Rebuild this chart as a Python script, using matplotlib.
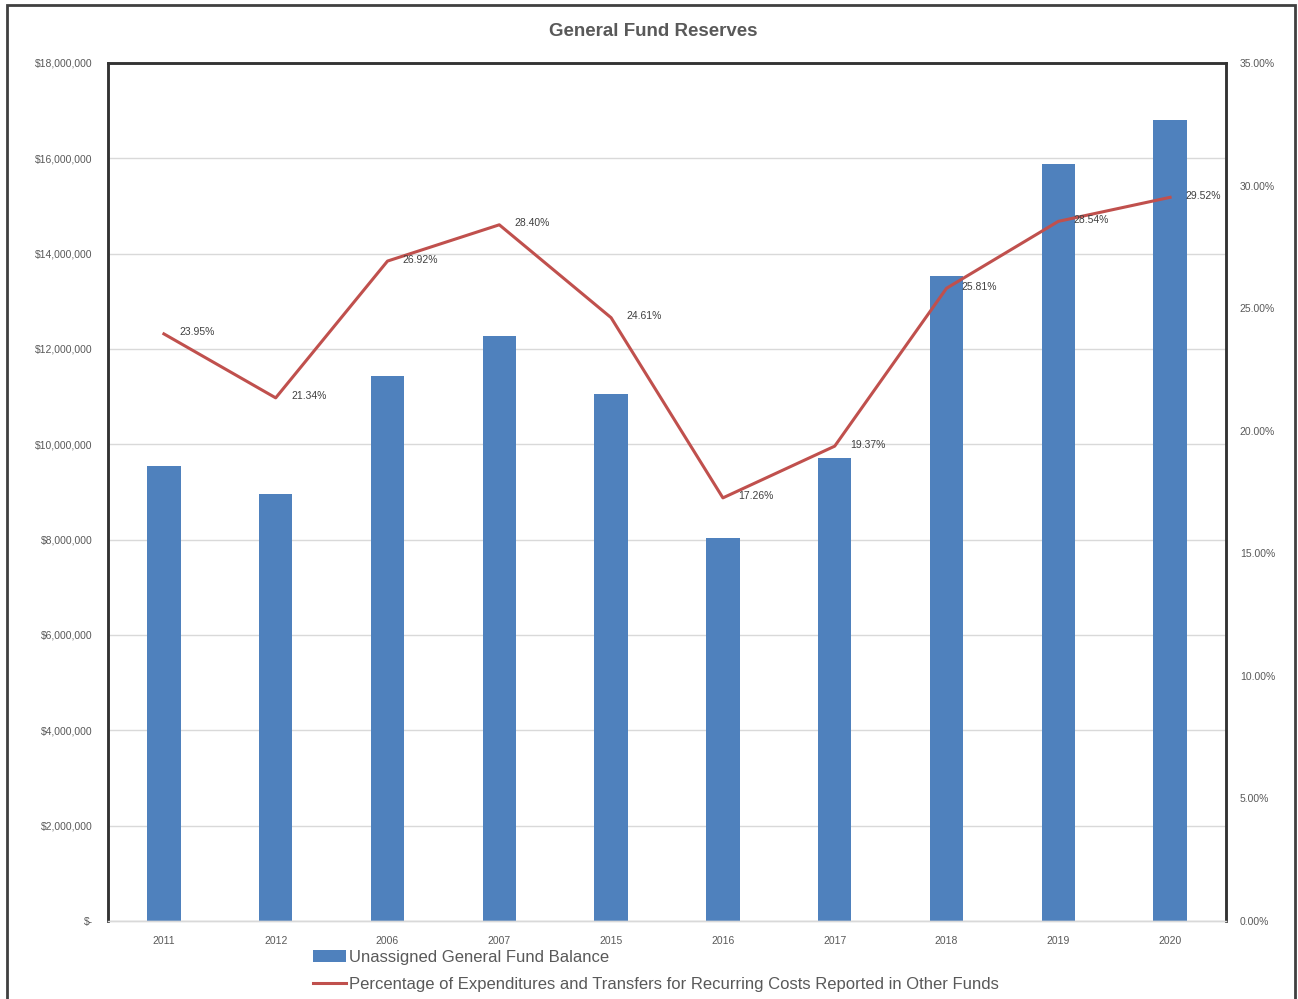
import matplotlib
matplotlib.use("Agg")
import matplotlib.pyplot as plt
import matplotlib.patches as patches
from matplotlib.ticker import FuncFormatter, MultipleLocator

# 데이터
years = ["2011", "2012", "2006", "2007", "2015", "2016", "2017", "2018", "2019", "2020"]
balance = [9545000, 8958000, 11430000, 12270000, 11060000, 8030000, 9710000, 13530000, 15880000, 16800000]
pct = [23.95, 21.34, 26.92, 28.40, 24.61, 17.26, 19.37, 25.81, 28.54, 29.52]

BAR_COLOR = "#4F81BD"
LINE_COLOR = "#C0504D"
TEXT_COLOR = "#595959"

plt.rcParams['font.family'] = ['Liberation Sans', 'DejaVu Sans']

fig = plt.figure(figsize=(12.98, 9.99), dpi=100)
W, H = 1298, 999
ax = fig.add_axes([108 / W, 1 - 921 / H, (1226 - 108) / W, (921 - 63) / H])

x = list(range(len(years)))
ax.bar(x, balance, width=0.30, color=BAR_COLOR, zorder=2,
       label="Unassigned General Fund Balance")
ax.set_xlim(-0.5, len(years) - 0.5)
ax.set_ylim(0, 18000000)
ax.yaxis.set_major_locator(MultipleLocator(2000000))

def money(v, pos):
    if v == 0:
        return "$-"
    return "${:,.0f}".format(v)

ax.yaxis.set_major_formatter(FuncFormatter(money))
ax.set_xticks(x)
ax.set_xticklabels(years)
ax.grid(axis='y', color="#D9D9D9", linewidth=1, zorder=0)
ax.set_axisbelow(True)
ax.tick_params(axis='both', length=0, labelsize=7.5, labelcolor=TEXT_COLOR)
ax.tick_params(axis='y', pad=11)
ax.tick_params(axis='x', pad=11)

ax2 = ax.twinx()
ax2.plot(x, pct, color=LINE_COLOR, linewidth=2.2, zorder=3,
         label="Percentage of Expenditures and Transfers for Recurring Costs Reported in Other Funds")
ax2.set_ylim(0, 35)
ax2.yaxis.set_major_locator(MultipleLocator(5))
ax2.yaxis.set_major_formatter(FuncFormatter(lambda v, p: "{:.2f}%".format(v)))
ax2.tick_params(axis='y', length=0, labelsize=7.5, labelcolor=TEXT_COLOR, pad=10)

for xi, p in zip(x, pct):
    ax2.annotate("{:.2f}%".format(p), (xi, p), xytext=(11, 1), textcoords='offset points',
                 ha='left', va='center', fontsize=7.5, color="#404040")

for a in (ax, ax2):
    for side in ("left", "top", "right"):
        a.spines[side].set_color("#333333")
        a.spines[side].set_linewidth(1.8)
    a.spines["bottom"].set_color("#D9D9D9")
    a.spines["bottom"].set_linewidth(1)

fig.text(653 / W, 1 - 31 / H, "General Fund Reserves", ha='center', va='center',
         fontsize=13.5, fontweight='bold', color=TEXT_COLOR)

h1, l1 = ax.get_legend_handles_labels()
h2, l2 = ax2.get_legend_handles_labels()
fig.legend(h1 + h2, l1 + l2, loc='upper left', bbox_to_anchor=(306 / W, 1 - 943 / H),
           frameon=False, fontsize=12, labelcolor=TEXT_COLOR, handlelength=2.0,
           handletextpad=0.2, labelspacing=0.75, borderaxespad=0)

# 바깥 테두리
fig.add_artist(patches.Rectangle((7 / W, -0.05), (1295 - 7) / W, 1 - 5 / H + 0.05,
                                 transform=fig.transFigure, fill=False,
                                 edgecolor="#404040", linewidth=2))

fig.savefig("out.png", dpi=100)
